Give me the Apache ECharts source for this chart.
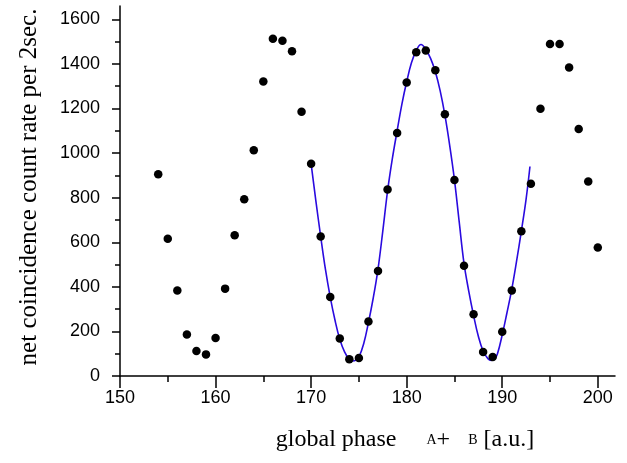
<!DOCTYPE html>
<html>
<head>
<meta charset="utf-8">
<script src="https://cdn.jsdelivr.net/npm/echarts@6/dist/echarts.min.js"></script>
<style>
html,body{margin:0;padding:0;background:#fff;}
#chart{width:627px;height:463px;}
</style>
</head>
<body>
<div id="chart"></div>
<script>
// ---- data ----
const phase = [154,155,156,157,158,159,160,161,162,163,164,165,166,167,168,169,170,171,172,173,174,175,176,177,178,179,180,181,182,183,184,185,186,187,188,189,190,191,192,193,194,195,196,197,198,199,200];
const counts = [905,616,384,186,112,97,170,392,631,793,1013,1321,1513,1504,1457,1186,952,626,354,168,75,81,245,471,837,1090,1317,1453,1460,1372,1174,879,495,277,108,85,199,384,649,863,1199,1490,1490,1384,1108,873,576];
const fitX = [170,170.5,171,171.5,172,172.5,173,173.5,174,174.35,174.7,175,175.5,176,176.5,177,177.5,178,178.5,179,179.5,180,180.5,181,181.5,182,182.5,183,183.5,184,184.5,185,185.5,186,186.5,187,187.5,188,188.5,188.85,189.2,189.5,190,190.5,191,191.5,192,192.5,192.9];
const fitY = [952,785,626,478,354,250,165,108,74,67,71,85,145,240,350,480,650,830,975,1100,1220,1320,1405,1460,1487,1465,1425,1365,1280,1170,1035,880,690,505,380,272,178,112,78,70,76,100,185,285,390,515,650,795,940];
const xMajor = [150,160,170,180,190,200];
const xMinor = [155,165,175,185,195];
const yMajor = [0,200,400,600,800,1000,1200,1400,1600];
const yMinor = [100,300,500,700,900,1100,1300,1500];

const chart = echarts.init(document.getElementById('chart'), null, {renderer:'canvas'});
const axisColor = '#000';
const labelFont = {fontFamily:'"Liberation Sans", Arial, sans-serif', fontSize:18, color:'#000'};
const plain = v => String(v);

chart.setOption({
  backgroundColor:'#fff',
  animation:false,
  grid:{left:120, top:6, width:495, height:370, containLabel:false},
  xAxis:[{
    type:'value', min:150, max:201.8, position:'bottom',
    axisLine:{show:true, onZero:false, lineStyle:{color:axisColor, width:1.5}},
    axisTick:{show:true, inside:false, length:12, customValues:xMajor, lineStyle:{color:axisColor, width:1.5}},
    axisLabel:Object.assign({show:true, margin:13, customValues:xMajor, formatter:plain}, labelFont),
    splitLine:{show:false}
  },{
    type:'value', min:150, max:201.8, position:'bottom',
    axisLine:{show:false},
    axisTick:{show:true, inside:false, length:6, customValues:xMinor, lineStyle:{color:axisColor, width:1.5}},
    axisLabel:{show:false},
    splitLine:{show:false}
  }],
  yAxis:[{
    type:'value', min:0, max:1660, position:'left',
    axisLine:{show:true, onZero:false, lineStyle:{color:axisColor, width:1.5}},
    axisTick:{show:true, inside:false, length:8, customValues:yMajor, lineStyle:{color:axisColor, width:1.5}},
    axisLabel:Object.assign({show:true, margin:20, customValues:yMajor, formatter:plain}, labelFont),
    splitLine:{show:false}
  },{
    type:'value', min:0, max:1660, position:'left',
    axisLine:{show:false},
    axisTick:{show:true, inside:false, length:5, customValues:yMinor, lineStyle:{color:axisColor, width:1.5}},
    axisLabel:{show:false},
    splitLine:{show:false}
  }],
  series:[{
    type:'line',
    data:fitX.map((x,i)=>[x, fitY[i]]),
    smooth:0.4,
    showSymbol:false,
    lineStyle:{color:'#2a0adf', width:1.6},
    z:2
  },{
    type:'scatter',
    data:phase.map((x,i)=>[x, counts[i]]),
    symbol:'circle',
    symbolSize:8.5,
    itemStyle:{color:'#000', opacity:1},
    z:3
  }],
  graphic:[{
    type:'text', x:29, y:187, rotation:Math.PI/2,
    style:{text:'net coincidence count rate per 2sec.', font:'25px "Liberation Serif", "Times New Roman", serif', fill:'#000', textAlign:'center', textVerticalAlign:'middle'}
  },{
    type:'text', x:405, y:452,
    style:{
      text:'{a|global phase     }{s|A}{a|+   }{s|B}{a| [a.u.]}',
      textAlign:'center', textVerticalAlign:'bottom',
      rich:{
        a:{font:'24px "Liberation Serif", "Times New Roman", serif', fill:'#000'},
        s:{font:'14px "Liberation Serif", "Times New Roman", serif', fill:'#000'}
      }
    }
  }]
});
</script>
</body>
</html>
